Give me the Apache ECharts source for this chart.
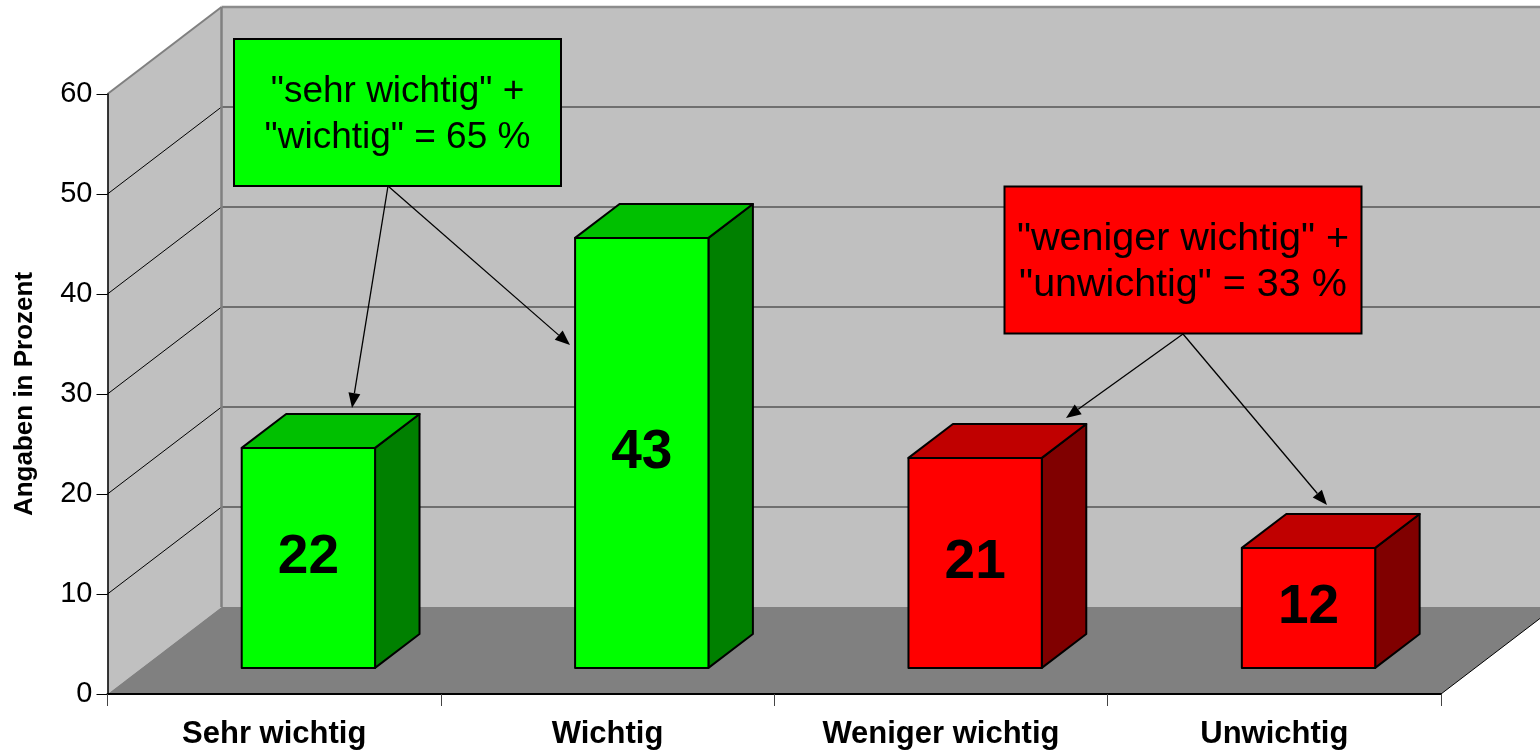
<!DOCTYPE html>
<html><head><meta charset="utf-8">
<script src="https://cdn.jsdelivr.net/npm/echarts@6/dist/echarts.min.js"></script>
<style>html,body{margin:0;padding:0;background:#fff}#c{width:1540px;height:753px}</style>
</head><body><div id="c"></div>
<script>
// ---- data ----
const categories = ['Sehr wichtig', 'Wichtig', 'Weniger wichtig', 'Unwichtig'];
const values = [22, 43, 21, 12];
const groups = ['pos', 'pos', 'neg', 'neg'];
const yTicks = [0, 10, 20, 30, 40, 50, 60];
const yTitle = 'Angaben in Prozent';
const noteGreen = ['"sehr wichtig" +', '"wichtig" = 65 %'];
const noteRed = ['"weniger wichtig" +', '"unwichtig" = 33 %'];

// ---- style / layout ----
const FONT = 'Arial, "Liberation Sans", sans-serif';
const DX = 114, DY = -87;          // depth vector of the 3D box
const F0 = 0.30, F1 = 0.69;        // bar depth span (fraction of depth)
const BAR_FRAC = 0.4;
const palette = {
  pos: { front: '#00ff00', top: '#00c000', side: '#008000' },
  neg: { front: '#ff0000', top: '#c00000', side: '#800000' }
};

const chart = echarts.init(document.getElementById('c'), null, { renderer: 'canvas' });

function renderFrame(params, api) {
  const bw = api.size([1, 0])[0];
  const n = categories.length;
  const xl = api.coord([0, 0])[0] - bw / 2;
  const xr = api.coord([n - 1, 0])[0] + bw / 2;
  const y0 = api.coord([0, 0])[1];
  const vTop = yTicks[yTicks.length - 1];
  const yTop = api.coord([0, vTop])[1];
  const far = xr + DX + 300;
  const ch = [];
  ch.push({ type: 'polygon', shape: { points: [[xl + DX, yTop + DY], [far, yTop + DY], [far, y0 + DY], [xl + DX, y0 + DY]] }, style: { fill: '#c0c0c0' } });
  ch.push({ type: 'polygon', shape: { points: [[xl, yTop], [xl + DX, yTop + DY], [xl + DX, y0 + DY], [xl, y0]] }, style: { fill: '#c0c0c0' } });
  ch.push({ type: 'polygon', shape: { points: [[xl, y0], [xr, y0], [xr + DX, y0 + DY], [xl + DX, y0 + DY]] }, style: { fill: '#808080' } });
  yTicks.forEach(v => {
    if (v === 0) return;
    const y = api.coord([0, v])[1];
    const isTop = v === vTop;
    ch.push({ type: 'line', shape: { x1: xl, y1: y, x2: xl + DX, y2: y + DY }, style: { stroke: isTop ? '#808080' : '#000', lineWidth: isTop ? 2 : 1 } });
    ch.push({ type: 'line', shape: { x1: xl + DX, y1: y + DY, x2: far, y2: y + DY }, style: { stroke: isTop ? '#8c8c8c' : '#555', lineWidth: isTop ? 2.5 : 1.5 } });
  });
  ch.push({ type: 'line', shape: { x1: xl + DX, y1: yTop + DY, x2: xl + DX, y2: y0 + DY }, style: { stroke: '#808080', lineWidth: 2.5 } });
  ch.push({ type: 'line', shape: { x1: xr, y1: y0, x2: xr + DX, y2: y0 + DY }, style: { stroke: '#000', lineWidth: 1 } });
  return { type: 'group', children: ch };
}

function renderBar(params, api) {
  const i = api.value(0), v = api.value(1);
  const c = palette[groups[params.dataIndex]];
  const bw = api.size([1, 0])[0];
  const w = bw * BAR_FRAC;
  const base = api.coord([i, 0]);
  const topP = api.coord([i, v]);
  const h = base[1] - topP[1];
  const x1 = base[0] - w / 2 + DX * F0, x2 = x1 + w;
  const yb = base[1] + DY * F0, yt = yb - h;
  const ddx = DX * (F1 - F0), ddy = DY * (F1 - F0);
  const st = { stroke: '#000', lineWidth: 2, lineJoin: 'round' };
  return {
    type: 'group',
    children: [
      { type: 'polygon', shape: { points: [[x2, yt], [x2 + ddx, yt + ddy], [x2 + ddx, yb + ddy], [x2, yb]] }, style: Object.assign({ fill: c.side }, st) },
      { type: 'polygon', shape: { points: [[x1, yt], [x1 + ddx, yt + ddy], [x2 + ddx, yt + ddy], [x2, yt]] }, style: Object.assign({ fill: c.top }, st) },
      { type: 'rect', shape: { x: x1, y: yt, width: w, height: h }, style: Object.assign({ fill: c.front }, st) },
      { type: 'text', x: (x1 + x2) / 2, y: yt + h / 2, style: { text: String(v), fill: '#000', font: 'bold 55px ' + FONT, align: 'center', verticalAlign: 'middle' } }
    ]
  };
}

function arrow(x1, y1, x2, y2) {
  const L = 15, W = 6;
  const dx = x2 - x1, dy = y2 - y1, len = Math.hypot(dx, dy);
  const ux = dx / len, uy = dy / len;
  const bx = x2 - ux * L, by = y2 - uy * L;
  return [
    { type: 'line', shape: { x1, y1, x2: bx, y2: by }, style: { stroke: '#000', lineWidth: 1.3 }, z: 20 },
    { type: 'polygon', shape: { points: [[x2, y2], [bx - uy * W, by + ux * W], [bx + uy * W, by - ux * W]] }, style: { fill: '#000' }, z: 20 }
  ];
}

chart.setOption({
  animation: false,
  backgroundColor: '#ffffff',
  grid: { left: 107.5, right: 99, top: 94, bottom: 59, containLabel: false, outerBoundsMode: 'none' },
  xAxis: {
    type: 'category', data: categories, boundaryGap: true, z: 10,
    axisLine: { show: true, lineStyle: { color: '#000', width: 2 } },
    axisTick: { show: true, interval: 0, length: 12, lineStyle: { color: '#444', width: 1 } },
    axisLabel: { interval: 0, margin: 25, color: '#000', fontSize: 31, fontWeight: 'bold', fontFamily: FONT },
    splitLine: { show: false }
  },
  yAxis: {
    type: 'value', min: 0, max: 60, interval: 10, z: 10,
    name: yTitle, nameLocation: 'middle', nameGap: 70, nameRotate: 90,
    nameTextStyle: { color: '#000', fontSize: 26, fontWeight: 'bold', fontFamily: FONT },
    axisLine: { show: true, lineStyle: { color: '#000', width: 1.5 } },
    axisTick: { show: true, length: 11, lineStyle: { color: '#000', width: 1 } },
    axisLabel: { margin: 15, color: '#000', fontSize: 29, fontFamily: FONT },
    splitLine: { show: false }
  },
  series: [
    { type: 'custom', name: 'frame', z: 1, silent: true, renderItem: renderFrame, data: [[0, 0]], clip: false },
    { type: 'custom', name: 'bars', z: 3, renderItem: renderBar, data: values.map((v, i) => [i, v]), clip: false }
  ],
  graphic: [
    { type: 'rect', shape: { x: 234, y: 39, width: 327, height: 147 }, style: { fill: '#00ff00', stroke: '#000', lineWidth: 2 }, z: 20 },
    { type: 'text', x: 397.5, y: 115, style: { text: noteGreen.join('\n'), font: '37px ' + FONT, lineHeight: 46, fill: '#000', align: 'center', verticalAlign: 'middle' }, z: 21 },
    { type: 'rect', shape: { x: 1004.5, y: 186.5, width: 357, height: 147 }, style: { fill: '#ff0000', stroke: '#000', lineWidth: 2 }, z: 20 },
    { type: 'text', x: 1183, y: 262.5, style: { text: noteRed.join('\n'), font: '39.5px ' + FONT, lineHeight: 46, fill: '#000', align: 'center', verticalAlign: 'middle' }, z: 21 },
    ...arrow(388, 186, 352, 408),
    ...arrow(388, 186, 570, 345),
    ...arrow(1183, 334, 1066, 418),
    ...arrow(1183, 334, 1327, 505)
  ]
});
</script></body></html>
